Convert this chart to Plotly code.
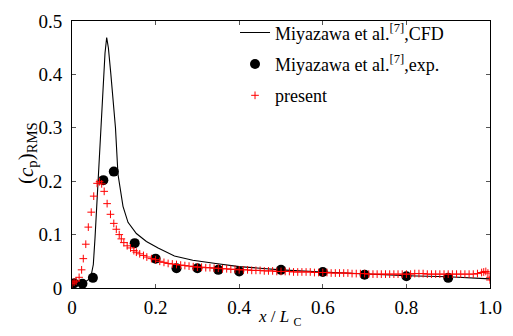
import plotly.graph_objects as go

# CFD (Miyazawa et al.) line
cfd_x = [0, 0.02, 0.035, 0.041, 0.046, 0.051, 0.055, 0.059, 0.063, 0.068, 0.075, 0.079, 0.083,
         0.087, 0.093, 0.104, 0.110, 0.116, 0.122, 0.134, 0.154, 0.178, 0.206, 0.245, 0.289,
         0.344, 0.40, 0.45, 0.5, 0.6, 0.7, 0.8, 0.9, 1.0]
cfd_y = [0.008, 0.010, 0.013, 0.017, 0.024, 0.044, 0.093, 0.153, 0.213, 0.30, 0.40, 0.44, 0.469,
         0.45, 0.40, 0.30, 0.213, 0.18, 0.153, 0.123, 0.102, 0.087, 0.075, 0.060, 0.052,
         0.046, 0.040, 0.037, 0.034, 0.030, 0.026, 0.023, 0.021, 0.017]

# Experiment (Miyazawa et al.)
exp_x = [0.005, 0.025, 0.05, 0.075, 0.1, 0.15, 0.2, 0.25, 0.3, 0.35, 0.4, 0.5, 0.6, 0.7, 0.8, 0.9]
exp_y = [0.009, 0.008, 0.019, 0.202, 0.218, 0.084, 0.055, 0.037, 0.037, 0.034, 0.031,
         0.034, 0.030, 0.025, 0.022, 0.019]

# present
pre_x = [0.0, 0.005, 0.01, 0.017, 0.023, 0.027, 0.033, 0.039, 0.046, 0.052, 0.060, 0.066,
         0.071, 0.077, 0.084, 0.092, 0.100, 0.106, 0.113, 0.118, 0.124, 0.132, 0.140, 0.148,
         0.154, 0.162, 0.171, 0.179, 0.190, 0.2,
         0.21, 0.22, 0.23, 0.24, 0.25, 0.26, 0.27, 0.28, 0.29, 0.30,
         0.31, 0.32, 0.33, 0.34, 0.35, 0.36, 0.37, 0.38, 0.39, 0.40,
         0.41, 0.42, 0.43, 0.44, 0.45, 0.46, 0.47, 0.48, 0.49, 0.50,
         0.51, 0.52, 0.53, 0.54, 0.55, 0.56, 0.57, 0.58, 0.59, 0.60,
         0.61, 0.62, 0.63, 0.64, 0.65, 0.66, 0.67, 0.68, 0.69, 0.70,
         0.71, 0.72, 0.73, 0.74, 0.75, 0.76, 0.77, 0.78, 0.79, 0.80,
         0.81, 0.82, 0.83, 0.84, 0.85, 0.86, 0.87, 0.88, 0.89, 0.90,
         0.91, 0.92, 0.93, 0.94, 0.95, 0.96, 0.97, 0.98, 0.985, 0.99, 0.995, 1.0, 1.0]
pre_y = [0.008, 0.011, 0.013, 0.020, 0.034, 0.055, 0.082, 0.114, 0.142, 0.172, 0.196, 0.199,
         0.195, 0.181, 0.158, 0.138, 0.121, 0.110, 0.100, 0.092, 0.085, 0.079, 0.075, 0.070,
         0.067, 0.064, 0.061, 0.058, 0.055, 0.053,
         0.050, 0.048, 0.046, 0.045, 0.044, 0.043, 0.042, 0.041, 0.040, 0.039,
         0.039, 0.038, 0.038, 0.037, 0.037, 0.036, 0.036, 0.035, 0.035, 0.034,
         0.034, 0.034, 0.033, 0.033, 0.033, 0.032, 0.032, 0.032, 0.031, 0.031,
         0.031, 0.031, 0.030, 0.030, 0.030, 0.030, 0.030, 0.029, 0.029, 0.029,
         0.029, 0.028, 0.028, 0.028, 0.028, 0.028, 0.027, 0.027, 0.027, 0.027,
         0.026, 0.026, 0.026, 0.026, 0.026, 0.026, 0.026, 0.026, 0.026, 0.026,
         0.026, 0.027, 0.027, 0.027, 0.026, 0.026, 0.026, 0.026, 0.026, 0.026,
         0.026, 0.026, 0.026, 0.026, 0.026, 0.026, 0.027, 0.029, 0.030, 0.031, 0.028, 0.020, 0.015]

x_ticks = [0, 0.2, 0.4, 0.6, 0.8, 1.0]
x_labels = ["0", "0.2", "0.4", "0.6", "0.8", "1.0"]
y_ticks = [0, 0.1, 0.2, 0.3, 0.4, 0.5]
y_labels = ["0", "0.1", "0.2", "0.3", "0.4", "0.5"]

FONT = "Liberation Serif"

fig = go.Figure()
fig.add_trace(go.Scatter(x=cfd_x, y=cfd_y, mode="lines", line=dict(color="black", width=1.1),
                         name="Miyazawa et al.<sup>[7]</sup>,CFD", legendgroup="a"))
fig.add_trace(go.Scatter(x=exp_x, y=exp_y, mode="markers",
                         marker=dict(color="black", size=10, symbol="circle"),
                         name="Miyazawa et al.<sup>[7]</sup>,exp.", legendgroup="b"))
fig.add_trace(go.Scatter(x=pre_x, y=pre_y, mode="markers",
                         marker=dict(symbol="cross-thin", size=5.5, line=dict(color="red", width=1), color="red"),
                         name="present", legendgroup="c"))

axis_common = dict(showline=True, linecolor="black", linewidth=1, mirror="ticks",
                   ticks="inside", ticklen=4, tickcolor="#555", tickwidth=1, showgrid=False, zeroline=False,
                   tickfont=dict(family=FONT, size=19, color="black"))

fig.update_xaxes(range=[0, 1.0], tickvals=x_ticks, ticktext=x_labels, ticklabelstandoff=2, **axis_common)
fig.update_yaxes(range=[0, 0.5], tickvals=y_ticks, ticktext=y_labels, ticklabelstandoff=5, **axis_common)

fig.update_layout(
    width=513, height=336,
    margin=dict(l=72, r=20, t=11, b=48),
    plot_bgcolor="white", paper_bgcolor="white",
    font=dict(family=FONT, size=18, color="black"),
    legend=dict(x=0.39, y=1.025, xanchor="left", yanchor="top", bgcolor="rgba(0,0,0,0)",
                traceorder="grouped", tracegroupgap=5,
                font=dict(family=FONT, size=18, color="black")),
    annotations=[
        dict(text="(<i>c</i><sub>p</sub>)<sub>RMS</sub>", xref="paper", yref="paper",
             x=-0.108, y=0.505, textangle=-90, showarrow=False,
             xanchor="center", yanchor="middle", font=dict(family=FONT, size=21)),
        dict(text="<i>x</i> / <i>L</i>\u00a0<sub>C</sub>", xref="paper", yref="paper",
             x=0.497, y=-0.112, showarrow=False, xanchor="center", yanchor="middle",
             font=dict(family=FONT, size=17)),
    ],
)

fig.write_html("out.html")
